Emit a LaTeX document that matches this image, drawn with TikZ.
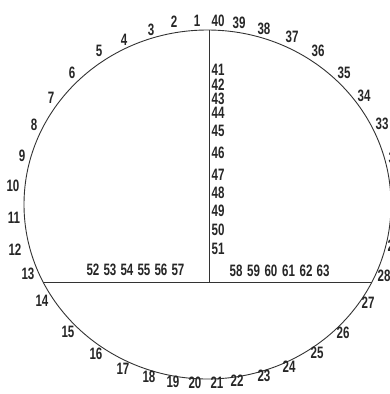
\documentclass[tikz,border=0pt]{standalone}
\usepackage{fontspec}
\newfontfamily\lab[FakeStretch=0.7]{Liberation Sans Bold}
\begin{document}
\begin{tikzpicture}[x=1pt,y=-1pt,
  lbl/.style={inner sep=0pt,font=\lab\fontsize{16.5}{17}\selectfont,text=black!85,
    text height=0.72em,text depth=0pt},
  ln/.style={draw=black!80,line width=0.9pt}]
\useasboundingbox (0,0) rectangle (390,394);
\coordinate (c) at (207.5,204.5);
\draw[ln] (c) ellipse [x radius=183.5, y radius=174.5];
\coordinate (top) at (209,30.2);
\coordinate (p13) at (43.1,282);
\coordinate (p28) at (371.9,282);
\coordinate (mid) at (209,282);
\draw[ln] (top) -- (mid);
\draw[ln] (p13) -- (p28);
\foreach \n/\x/\y in {1/197/23,2/174/24,3/151/32,4/124/42,5/99/53,6/72/75,7/51/100,8/34/127,
  9/22/158,10/13/188,11/14/220,12/15/252,13/28/276,14/42/303,15/68/334,16/96/356,
  17/123/371,18/149/379,19/173/384,20/195/384.5,21/217/385,22/237/383,23/264/378,
  24/289/369,25/317/355,26/343/335,27/368/305,28/384/278,29/394/248,32/395/160,
  33/382/126,34/364/98,35/344/75,36/318/53,37/292/39,38/264/31,39/239/25,40/218/23,
  41/218/72,42/218/86.5,43/218/100.5,44/218/115,45/218/133,46/218/155,47/218/177,
  48/218/195,49/218/213,50/218/232,51/218/251,
  52/93/272,53/110/272,54/127/272,55/144/272,56/161/272,57/178/272,
  58/236/273,59/253.5/273,60/271/273,61/288.5/273,62/306/273,63/323/273}
  \node[lbl] (l\n) at (\x,\y) {\n};
\end{tikzpicture}
\end{document}
